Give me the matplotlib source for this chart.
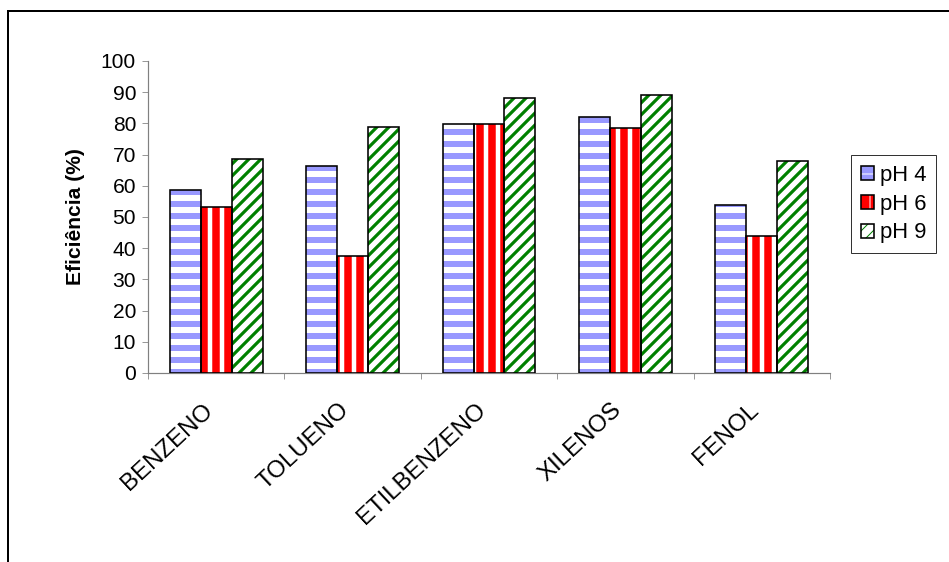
import numpy as np
import matplotlib
matplotlib.use("Agg")
import matplotlib.pyplot as plt
import matplotlib.transforms as mtransforms
from matplotlib.patches import Rectangle, Patch

plt.rcParams['font.family'] = ['Liberation Sans', 'DejaVu Sans']

compostos = ['BENZENO', 'TOLUENO', 'ETILBENZENO', 'XILENOS', 'FENOL']
ph4 = [58.7, 66.3, 79.8, 82.2, 53.8]
ph6 = [53.2, 37.5, 79.8, 78.5, 43.8]
ph9 = [68.6, 79.0, 88.3, 89.0, 68.0]
series_labels = ['pH 4', 'pH 6', 'pH 9']

# face colour, hatch pattern, hatch colour and hatch line width per series
estilos = [('#9999FF', '-', 'white', 6.0),
           ('#FF0000', '|', 'white', 4.5),
           ('white', '//', '#008000', 3.2)]

W, H, DPI = 949, 562, 72
FS = 21
fig = plt.figure(figsize=(W / DPI, H / DPI), dpi=DPI)
ax = fig.add_axes([148 / W, 1 - 373 / H, (830 - 148) / W, (373 - 61) / H])

x = np.arange(len(compostos))
largura = 0.227
handles = []
for i, (vals, (face, hatch, hcor, hlw)) in enumerate(zip([ph4, ph6, ph9], estilos)):
    pos = x + (i - 1) * largura
    # hatched fill first, then the black outline on top
    barras = ax.bar(pos, vals, largura, color=face, edgecolor=hcor,
                    hatch=hatch, linewidth=0, zorder=2)
    for b in barras:
        if hasattr(b, 'set_hatch_linewidth'):
            b.set_hatch_linewidth(hlw)
    ax.bar(pos, vals, largura, fill=False, edgecolor='black',
           linewidth=1.6, zorder=3)
    h_fill = Patch(facecolor=face, edgecolor=hcor, hatch=hatch, linewidth=0)
    if hasattr(h_fill, 'set_hatch_linewidth'):
        h_fill.set_hatch_linewidth(hlw)
    h_edge = Patch(fill=False, edgecolor='black', linewidth=1.6)
    handles.append((h_fill, h_edge))

ax.set_xlim(-0.5, len(compostos) - 0.5)
ax.set_ylim(0, 100)
ax.set_yticks(range(0, 101, 10))
ax.set_xticks(np.arange(-0.5, len(compostos)), labels=[''] * (len(compostos) + 1))
ax.set_xticks(x, labels=compostos, minor=True)
ax.tick_params(axis='x', which='minor', length=0, pad=26, labelsize=24)
ax.tick_params(axis='x', which='major', length=6, color='#808080', direction='out')
ax.tick_params(axis='y', length=6, color='#808080', labelsize=FS, pad=6)
desloc = mtransforms.ScaledTranslation(-14 / DPI, 0, fig.dpi_scale_trans)
for lbl in ax.get_xticklabels(minor=True):
    lbl.set_rotation(43)
    lbl.set_ha('right')
    lbl.set_va('top')
    lbl.set_rotation_mode('anchor')
    lbl.set_transform(lbl.get_transform() + desloc)

for lado in ['top', 'right']:
    ax.spines[lado].set_visible(False)
for lado in ['left', 'bottom']:
    ax.spines[lado].set_color('#808080')
    ax.spines[lado].set_linewidth(1.2)

ax.set_ylabel('Eficiência (%)', fontsize=FS, fontweight='bold', labelpad=16)

leg = fig.legend(handles, series_labels, loc='upper left',
                 bbox_to_anchor=(851 / W, 1 - 155 / H), borderaxespad=0,
                 fontsize=22, frameon=True, fancybox=False, shadow=False,
                 handlelength=0.6, handleheight=0.6, handletextpad=0.25,
                 labelspacing=0.35, borderpad=0.45)
leg.get_frame().set_edgecolor('black')
leg.get_frame().set_linewidth(1.0)

# outer chart border (only left and top edges fall inside the image)
fig.add_artist(Rectangle((8 / W, -0.2), 1.5, 1.2 - 11 / H, fill=False,
                         edgecolor='black', linewidth=2,
                         transform=fig.transFigure, clip_on=False))

fig.savefig('out.png', dpi=DPI, facecolor='white')
